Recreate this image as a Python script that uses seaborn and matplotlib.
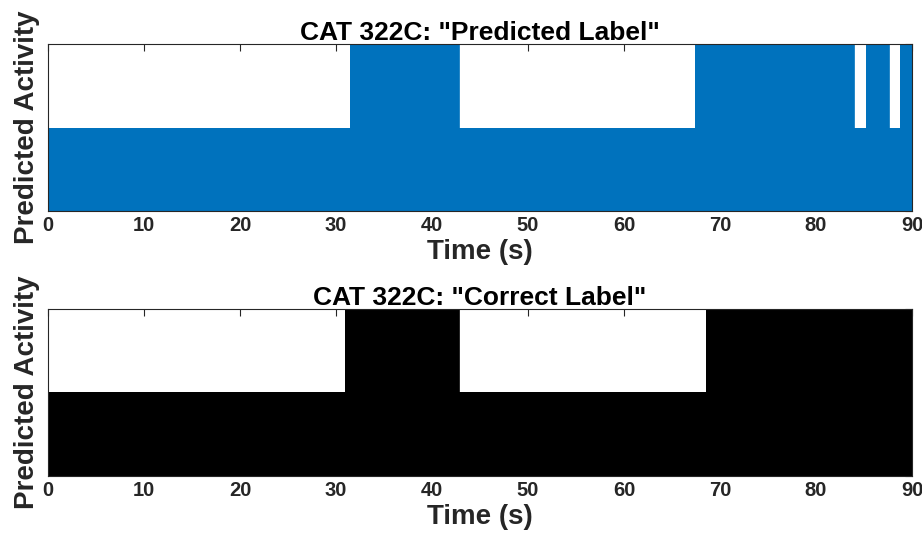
import matplotlib
matplotlib.use("Agg")
import matplotlib.pyplot as plt
import seaborn as sns
import numpy as np
import pandas as pd

# Data: step change points (s) and activity level held from each point
pred_times = [0, 31.5, 42.8, 67.4, 84.0, 85.25, 87.6, 88.8, 90]
pred_levels = [1, 2, 1, 2, 1, 2, 1, 2, 2]
corr_times = [0, 30.95, 42.8, 68.5, 90]
corr_levels = [1, 2, 1, 2, 2]
xticks = [0, 10, 20, 30, 40, 50, 60, 70, 80, 90]
titles = ['CAT 322C: "Predicted Label"', 'CAT 322C: "Correct Label"']
colors = ["#0072BD", "#000000"]

sns.set_style("white")
plt.rcParams["font.family"] = ["Liberation Sans", "DejaVu Sans"]
plt.rcParams["font.weight"] = "bold"

fig = plt.figure(figsize=(9.22, 5.37), dpi=100)
ax1 = fig.add_axes([0.0521, 0.6076, 0.9370, 0.3099])
ax2 = fig.add_axes([0.0521, 0.1142, 0.9370, 0.3098])

gray = "#262626"
for ax, t, lv, title, col in [(ax1, pred_times, pred_levels, titles[0], colors[0]),
                              (ax2, corr_times, corr_levels, titles[1], colors[1])]:
    df = pd.DataFrame({"Time": t, "Level": lv})
    ax.fill_between(df["Time"], df["Level"], 0, step="post", color=col,
                    linewidth=0, zorder=2)
    sns.lineplot(data=df, x="Time", y="Level", drawstyle="steps-post",
                 color=col, linewidth=0.6, ax=ax, zorder=3)
    ax.set_xlim(0, 90)
    ax.set_ylim(0, 2)
    ax.set_xticks(xticks)
    ax.set_xticklabels([str(v) for v in xticks], fontsize=14.5, fontweight="bold", color=gray)
    ax.set_yticks([0, 0.5, 1, 1.5, 2])
    ax.set_yticklabels([])
    ax.tick_params(direction="in", length=5, width=0.8, color=gray,
                   top=True, right=True, pad=4)
    for s in ax.spines.values():
        s.set_color(gray)
        s.set_linewidth(0.8)
        s.set_zorder(4)
    ax.set_title(title, fontsize=19, fontweight="bold", color="black", pad=3)
    ax.set_xlabel("Time (s)", fontsize=20, fontweight="bold", color=gray, labelpad=3)
    ax.set_ylabel("Predicted Activity", fontsize=20, fontweight="bold", color=gray, labelpad=2)

fig.savefig("out.png", dpi=100)
